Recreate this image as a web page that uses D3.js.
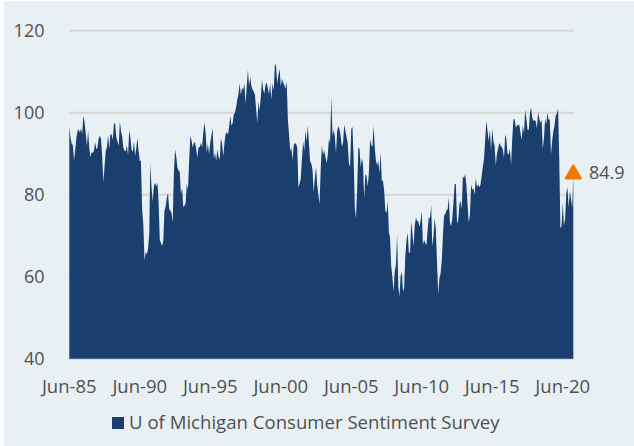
<!doctype html>
<html lang="en">
<head>
  <meta charset="utf-8">
  <title>U of Michigan Consumer Sentiment</title>
  <style>
    body { margin: 0; background: #fff; }
    svg { display: block; font-family: "Open Sans", sans-serif; }
    .tick-label { fill: #505050; font-size: 18px; }
    .x-label { font-size: 18.5px; }
    .legend-label { font-size: 18.6px; }
    .grid line { stroke: #d6d6d6; stroke-width: 2px; }
  </style>
</head>
<body>
  <div id="chart"></div>
  <script src="https://cdn.jsdelivr.net/npm/d3@7"></script>
  <script>
// monthly readings, Jun-1985 to Mar-2021
var startMonth = new Date(1985, 5, 1);
var sentiment = [
  96.5, 94.0, 92.4, 92.1, 88.4, 90.9, 93.9,                          // 1985 Jun-Dec
  95.6, 95.9, 95.1, 96.2, 94.8, 99.3, 97.7, 94.9, 91.9, 95.6, 91.4, 89.1, // 1986
  90.4, 90.2, 90.8, 92.8, 91.1, 91.5, 93.7, 94.4, 93.6, 89.3, 83.1, 86.8, // 1987
  90.8, 91.6, 94.6, 91.2, 94.8, 94.7, 93.4, 97.4, 97.3, 94.1, 93.0, 91.9, // 1988
  97.9, 95.4, 94.3, 91.5, 90.7, 90.6, 92.0, 89.6, 95.8, 93.9, 90.9, 90.5, // 1989
  93.0, 89.5, 91.3, 93.9, 90.6, 88.3, 88.2, 76.4, 72.8, 63.9, 66.0, 65.5, // 1990
  66.8, 70.4, 87.7, 81.8, 78.3, 82.1, 82.9, 82.0, 83.0, 78.3, 69.1, 68.2, // 1991
  67.5, 68.8, 76.0, 77.2, 79.2, 80.4, 76.6, 76.1, 75.6, 73.3, 85.3, 91.0, // 1992
  89.3, 86.6, 85.9, 85.6, 80.3, 81.5, 77.0, 77.3, 77.9, 82.7, 81.2, 88.2, // 1993
  94.3, 93.2, 91.5, 92.6, 92.8, 91.2, 89.0, 91.7, 91.5, 92.7, 91.6, 95.1, // 1994
  97.6, 95.1, 90.3, 92.5, 89.8, 92.7, 94.4, 96.2, 88.9, 90.2, 88.2, 91.0, // 1995
  89.3, 88.5, 93.7, 92.7, 89.4, 92.4, 94.7, 95.3, 94.7, 96.5, 99.2, 96.9, // 1996
  97.4, 99.7, 100.0, 101.4, 103.2, 104.5, 107.1, 104.4, 106.0, 105.6, 107.2, 102.1, // 1997
  106.6, 110.4, 106.5, 108.7, 106.5, 105.6, 105.2, 104.4, 100.9, 97.4, 102.7, 100.5, // 1998
  103.9, 108.1, 105.7, 104.6, 106.8, 107.3, 106.0, 104.5, 107.2, 103.2, 107.2, 105.4, // 1999
  112.0, 111.3, 107.1, 109.2, 110.7, 106.4, 108.3, 107.3, 106.8, 105.8, 107.6, 98.4, // 2000
  94.7, 90.6, 91.5, 88.4, 92.0, 92.6, 92.4, 91.5, 81.8, 82.7, 83.9, 88.8, // 2001
  93.0, 90.7, 95.7, 93.0, 96.9, 92.4, 88.1, 87.6, 86.1, 80.6, 84.2, 86.7, // 2002
  82.4, 79.9, 77.6, 86.0, 92.1, 89.7, 90.9, 89.3, 87.7, 89.6, 93.7, 92.6, // 2003
  103.8, 94.4, 95.8, 94.2, 90.2, 95.6, 96.7, 95.9, 94.2, 91.7, 92.8, 97.1, // 2004
  95.5, 94.1, 92.6, 87.7, 86.9, 96.0, 96.5, 89.1, 76.9, 74.2, 81.6, 91.5, // 2005
  91.2, 86.7, 88.9, 87.4, 79.1, 84.9, 84.7, 82.0, 85.4, 93.6, 92.1, 91.7, // 2006
  96.9, 91.3, 88.4, 87.1, 88.3, 85.3, 90.4, 83.4, 83.4, 80.9, 76.1, 75.5, // 2007
  78.4, 70.8, 69.5, 62.6, 59.8, 56.4, 61.2, 63.0, 70.3, 57.6, 55.3, 60.1, // 2008
  61.2, 56.3, 57.3, 65.1, 68.7, 70.8, 66.0, 65.7, 73.5, 70.6, 67.4, 72.5, // 2009
  74.4, 73.6, 73.6, 72.2, 73.6, 76.0, 67.8, 68.9, 68.2, 67.7, 71.6, 74.5, // 2010
  74.2, 77.5, 67.5, 69.8, 74.3, 71.5, 63.7, 55.8, 59.5, 60.8, 63.7, 69.9, // 2011
  75.0, 75.3, 76.2, 76.4, 79.3, 73.2, 72.3, 74.3, 78.3, 82.6, 82.7, 72.9, // 2012
  73.8, 77.6, 78.6, 76.4, 84.5, 84.1, 85.1, 82.1, 77.5, 73.2, 75.1, 82.5, // 2013
  81.2, 81.6, 80.0, 84.1, 81.9, 82.5, 81.8, 82.5, 84.6, 86.9, 88.8, 93.6, // 2014
  98.1, 95.4, 93.0, 95.9, 90.7, 96.1, 93.1, 91.9, 87.2, 90.0, 91.3, 92.6, // 2015
  92.0, 91.7, 91.0, 89.0, 94.7, 93.5, 90.0, 89.8, 91.2, 87.2, 93.8, 98.2, // 2016
  98.5, 96.3, 96.9, 97.0, 97.1, 95.1, 93.4, 96.8, 95.1, 100.7, 98.5, 95.9, // 2017
  95.7, 99.7, 101.4, 98.8, 98.0, 98.2, 97.9, 96.2, 100.1, 98.6, 97.5, 98.3, // 2018
  91.2, 93.8, 98.4, 97.2, 100.0, 98.2, 98.4, 89.8, 93.2, 95.5, 96.8, 99.3, // 2019
  99.8, 101.0, 89.1, 71.8, 72.3, 78.1, 72.5, 74.1, 80.4, 81.8, 76.9, 80.7, // 2020
  79.0, 76.8, 84.9                                                     // 2021 Jan-Mar
];
var yTicks = [40, 60, 80, 100, 120];
var xTickYears = [1985, 1990, 1995, 2000, 2005, 2010, 2015, 2020];
var seriesName = "U of Michigan Consumer Sentiment Survey";

var width = 634, height = 446;
var navy = "#1a3f6e";

var data = sentiment.map(function(v, i) {
  return { date: d3.timeMonth.offset(startMonth, i), value: v };
});
var last = data[data.length - 1];

var svg = d3.select("#chart").append("svg")
    .attr("width", width)
    .attr("height", height);

svg.append("rect")
    .attr("x", 4).attr("y", 1)
    .attr("width", width - 4).attr("height", height - 1)
    .attr("fill", "#e8f0f3");

var x = d3.scaleTime()
    .domain([startMonth, last.date])
    .range([69.3, 573.3]);

var y = d3.scaleLinear()
    .domain([40, 120])
    .range([358.7, 30.7]);

// gridlines
svg.append("g").attr("class", "grid")
  .selectAll("line")
  .data(yTicks)
  .enter().append("line")
    .attr("x1", 69)
    .attr("x2", 574)
    .attr("y1", function(d) { return y(d); })
    .attr("y2", function(d) { return y(d); });

var area = d3.area()
    .x(function(d) { return x(d.date); })
    .y0(y(40))
    .y1(function(d) { return y(d.value); });

svg.append("path")
    .datum(data)
    .attr("fill", navy)
    .attr("d", area);

// y labels
svg.append("g")
  .selectAll("text")
  .data(yTicks)
  .enter().append("text")
    .attr("class", "tick-label")
    .attr("x", 44.5)
    .attr("y", function(d) { return y(d); })
    .attr("dy", "0.36em")
    .attr("text-anchor", "end")
    .text(function(d) { return d; });

// x labels
var fmt = d3.timeFormat("%b-%y");
svg.append("g")
  .selectAll("text")
  .data(xTickYears.map(function(yr) { return new Date(yr, 5, 1); }))
  .enter().append("text")
    .attr("class", "tick-label x-label")
    .attr("x", function(d) { return x(d); })
    .attr("y", 393.3)
    .attr("text-anchor", "middle")
    .text(function(d) { return fmt(d); });

// latest value marker
svg.append("path")
    .attr("d", d3.symbol().type(d3.symbolTriangle).size(100)())
    .attr("transform", "translate(" + x(last.date) + "," + (y(last.value) - 0.5) + ")")
    .attr("fill", "#f07800")
    .attr("stroke", "#f07800")
    .attr("stroke-width", 2)
    .attr("stroke-linejoin", "round");

svg.append("text")
    .attr("class", "tick-label")
    .attr("x", 589)
    .attr("y", y(last.value) + 4)
    .text(last.value.toFixed(1));

// legend
svg.append("rect")
    .attr("x", 112).attr("y", 417)
    .attr("width", 12).attr("height", 12)
    .attr("fill", navy);

svg.append("text")
    .attr("class", "tick-label legend-label")
    .attr("x", 129)
    .attr("y", 429.3)
    .text(seriesName);
  </script>
</body>
</html>
